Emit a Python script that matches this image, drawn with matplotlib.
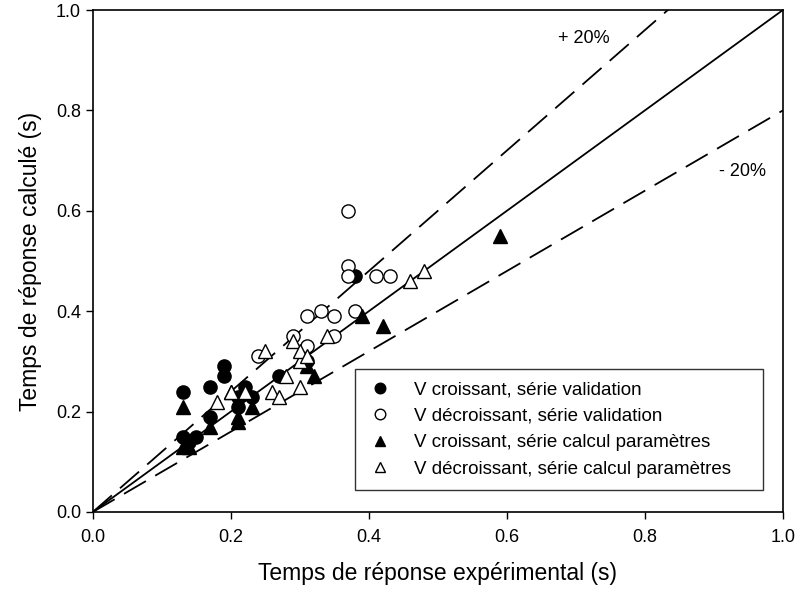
import matplotlib
matplotlib.use("Agg")
import matplotlib.pyplot as plt
import numpy as np

plt.rcParams['font.family'] = ['Liberation Sans', 'DejaVu Sans']

# V croissant, série validation (filled circles)
fc_x = [0.13, 0.13, 0.15, 0.17, 0.17, 0.19, 0.19, 0.21, 0.21, 0.22, 0.23, 0.27, 0.31, 0.38, 0.14]
fc_y = [0.24, 0.15, 0.15, 0.25, 0.19, 0.29, 0.27, 0.21, 0.23, 0.25, 0.23, 0.27, 0.30, 0.47, 0.14]
# V décroissant, série validation (open circles)
oc_x = [0.37, 0.37, 0.37, 0.41, 0.43, 0.38, 0.35, 0.33, 0.31, 0.29, 0.31, 0.35, 0.24]
oc_y = [0.60, 0.49, 0.47, 0.47, 0.47, 0.40, 0.39, 0.40, 0.39, 0.35, 0.33, 0.35, 0.31]
# V croissant, série calcul paramètres (filled triangles)
ft_x = [0.13, 0.13, 0.14, 0.17, 0.20, 0.21, 0.21, 0.23, 0.31, 0.32, 0.39, 0.42, 0.59]
ft_y = [0.21, 0.13, 0.13, 0.17, 0.24, 0.18, 0.19, 0.21, 0.29, 0.27, 0.39, 0.37, 0.55]
# V décroissant, série calcul paramètres (open triangles)
ot_x = [0.18, 0.20, 0.22, 0.25, 0.26, 0.27, 0.28, 0.29, 0.30, 0.30, 0.31, 0.34, 0.30, 0.46, 0.48]
ot_y = [0.22, 0.24, 0.24, 0.32, 0.24, 0.23, 0.27, 0.34, 0.30, 0.32, 0.31, 0.35, 0.25, 0.46, 0.48]

labels = ["V croissant, série validation",
          "V décroissant, série validation",
          "V croissant, série calcul paramètres",
          "V décroissant, série calcul paramètres"]

fig = plt.figure(figsize=(8, 5.93), dpi=100)
ax = fig.add_axes([0.116, 0.1366, 0.8625, 0.8464])

xl = np.array([0.0, 1.0])
ax.plot(xl, xl, color='black', lw=1.3, zorder=1)
ax.plot(xl, 1.2 * xl, color='black', lw=1.3, dashes=(14, 6), zorder=1)
ax.plot(xl, 0.8 * xl, color='black', lw=1.3, dashes=(14, 6), zorder=1)

ms = 9.5
ax.plot(fc_x, fc_y, 'o', ms=ms, mfc='black', mec='black', ls='none', label=labels[0], zorder=3)
ax.plot(oc_x, oc_y, 'o', ms=ms, mfc='white', mec='black', mew=1.0, ls='none', label=labels[1], zorder=3)
ax.plot(ft_x, ft_y, '^', ms=ms, mfc='black', mec='black', ls='none', label=labels[2], zorder=3)
ax.plot(ot_x, ot_y, '^', ms=ms, mfc='white', mec='black', mew=1.0, ls='none', label=labels[3], zorder=3)

ax.text(0.674, 0.935, "+ 20%", fontsize=13, transform=ax.transAxes)
ax.text(0.908, 0.67, "- 20%", fontsize=13, transform=ax.transAxes)

ax.set_xlim(0, 1.0)
ax.set_ylim(0, 1.0)
ticks = [0.0, 0.2, 0.4, 0.6, 0.8, 1.0]
ax.set_xticks(ticks)
ax.set_yticks(ticks)
ax.set_xticklabels([f"{t:.1f}" for t in ticks])
ax.set_yticklabels([f"{t:.1f}" for t in ticks])
ax.tick_params(direction='out', length=5, width=1, labelsize=13)
ax.tick_params(axis='x', pad=7)
for s in ax.spines.values():
    s.set_linewidth(1.2)

ax.set_xlabel("Temps de réponse expérimental (s)", fontsize=16.5, labelpad=12)
ax.set_ylabel("Temps de réponse calculé (s)", fontsize=16.5, labelpad=10)

leg = ax.legend(loc='lower left', bbox_to_anchor=(0.380, 0.044, 0.591, 0.243),
                mode='expand', borderaxespad=0.0, fontsize=13.5, frameon=True,
                fancybox=False, edgecolor='black', borderpad=0.65, handletextpad=1.1,
                labelspacing=0.5, handlelength=1.4, markerscale=0.8)
leg.get_frame().set_linewidth(1.0)

fig.savefig("out.png", dpi=100)
